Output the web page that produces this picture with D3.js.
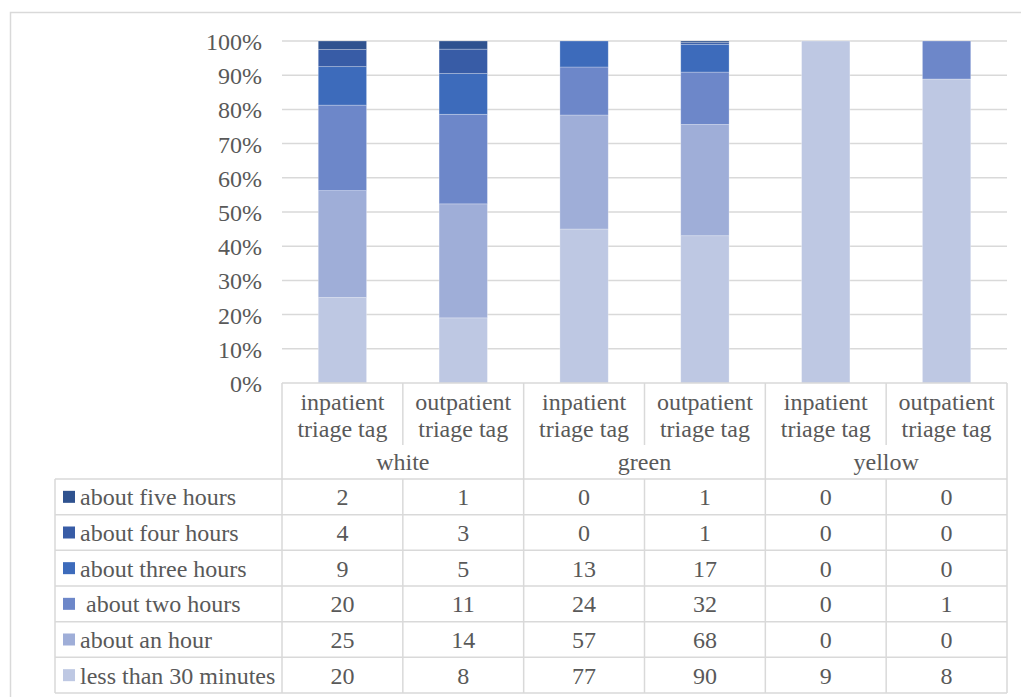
<!DOCTYPE html>
<html>
<head>
<meta charset="utf-8">
<script src="https://cdn.jsdelivr.net/npm/d3@7"></script>
<style>
  html, body { margin: 0; padding: 0; background: #fff; }
  svg { display: block; }
</style>
</head>
<body>
<svg id="chart" width="1021" height="697"></svg>
<script>
// ---- data ----
const groups = ["white", "white", "green", "green", "yellow", "yellow"];
const groupNames = ["white", "green", "yellow"];
const subCategories = ["inpatient triage tag", "outpatient triage tag", "inpatient triage tag", "outpatient triage tag", "inpatient triage tag", "outpatient triage tag"];
// series in table order (top row first)
const seriesNames = ["about five hours", "about four hours", "about three hours", " about two hours", "about an hour", "less than 30 minutes"];
const fiveHours     = [2, 1, 0, 1, 0, 0];
const fourHours     = [4, 3, 0, 1, 0, 0];
const threeHours    = [9, 5, 13, 17, 0, 0];
const twoHours      = [20, 11, 24, 32, 0, 1];
const anHour        = [25, 14, 57, 68, 0, 0];
const lessThan30    = [20, 8, 77, 90, 9, 8];
const seriesValues = [fiveHours, fourHours, threeHours, twoHours, anHour, lessThan30];
const seriesColors = ["#2F528F", "#385CA6", "#3D6BBB", "#6D87C9", "#9FAED8", "#BEC8E3"];
const yTicks = [0, 0.1, 0.2, 0.3, 0.4, 0.5, 0.6, 0.7, 0.8, 0.9, 1.0];

// ---- layout ----
const svg = d3.select("#chart");
const FONT = "Liberation Serif";
const FS = 24;
const TXT = "#595959";
const gridColor = "#D9D9D9";
const plotLeft = 282, plotRight = 1007, plotTop = 41, plotBottom = 383;
const legendLeft = 55;
const catRowBottom = 445;
const headerBottom = 479;
const tableBottom = 693;

function styleText(sel) {
  return sel.attr("font-family", FONT).style("font-family", FONT)
    .attr("font-size", FS).style("font-size", FS + "px")
    .attr("fill", TXT).style("fill", TXT);
}

// outer border
svg.append("rect").attr("x", 10.5).attr("y", 12.5).attr("width", 1030).attr("height", 700)
  .attr("fill", "none").attr("stroke", gridColor).attr("stroke-width", 1.5);

const cols = d3.range(subCategories.length);
const x = d3.scaleBand().domain(cols).range([plotLeft, plotRight]).paddingInner(0).paddingOuter(0);
const y = d3.scaleLinear().domain([0, 1]).range([plotBottom, plotTop]);

// gridlines
svg.append("g").selectAll("line").data(yTicks.slice(1)).join("line")
  .attr("x1", plotLeft).attr("x2", plotRight)
  .attr("y1", d => y(d)).attr("y2", d => y(d))
  .attr("stroke", gridColor).attr("stroke-width", 1.5);

// y axis
const yAxis = d3.axisLeft(y).tickValues(yTicks).tickFormat(d3.format(".0%")).tickSize(0).tickPadding(20);
const ga = svg.append("g").attr("transform", `translate(${plotLeft},0)`).call(yAxis);
ga.attr("font-family", FONT).attr("font-size", FS);
ga.select(".domain").remove();
styleText(ga.selectAll("text")).attr("dy", "0.35em");

// stacked data
const rows = cols.map(i => {
  const r = { idx: i };
  seriesNames.forEach((s, k) => r[s] = seriesValues[k][i]);
  return r;
});
const stackKeys = seriesNames.slice().reverse(); // bottom first
const stacked = d3.stack().keys(stackKeys).offset(d3.stackOffsetExpand)(rows);
const color = d3.scaleOrdinal().domain(seriesNames).range(seriesColors);

const barW = x.bandwidth() * 0.4;
svg.append("g").selectAll("g").data(stacked).join("g")
  .attr("fill", d => color(d.key))
  .selectAll("rect").data(d => d).join("rect")
  .attr("x", d => x(d.data.idx) + (x.bandwidth() - barW) / 2)
  .attr("width", barW)
  .attr("y", d => y(d[1]))
  .attr("height", d => Math.max(0, y(d[0]) - y(d[1])))
  .attr("stroke", d => (d[1] - d[0]) > 0 ? "#ffffff" : "none")
  .attr("stroke-opacity", 0.35)
  .attr("stroke-width", 0.75);

// ---- data table ----
const tbl = svg.append("g").attr("stroke", gridColor).attr("stroke-width", 1.5);
tbl.append("line").attr("x1", plotLeft).attr("x2", plotRight).attr("y1", plotBottom).attr("y2", plotBottom);
const rowY = d3.scaleBand().domain(d3.range(seriesNames.length)).range([headerBottom, tableBottom]);
const hLines = d3.range(seriesNames.length + 1).map(k => k < seriesNames.length ? rowY(k) : tableBottom);
tbl.selectAll(".h").data(hLines).join("line")
  .attr("x1", legendLeft).attr("x2", plotRight).attr("y1", d => d).attr("y2", d => d);
tbl.append("line").attr("x1", legendLeft).attr("x2", legendLeft).attr("y1", headerBottom).attr("y2", tableBottom);
const bounds = cols.map(i => x(i)).concat([plotRight]);
bounds.forEach((bx, k) => {
  const isGroupEdge = k === bounds.length - 1 || k === 0 || groups[k] !== groups[k - 1];
  if (isGroupEdge) {
    tbl.append("line").attr("x1", bx).attr("x2", bx).attr("y1", plotBottom).attr("y2", tableBottom);
  } else {
    tbl.append("line").attr("x1", bx).attr("x2", bx).attr("y1", plotBottom).attr("y2", catRowBottom);
    tbl.append("line").attr("x1", bx).attr("x2", bx).attr("y1", headerBottom).attr("y2", tableBottom);
  }
});

// category labels (two lines)
const catG = svg.append("g");
cols.forEach(i => {
  const cx = x(i) + x.bandwidth() / 2;
  const words = subCategories[i].split(" ");
  const t = styleText(catG.append("text")).attr("text-anchor", "middle").attr("x", cx).attr("y", 410);
  t.append("tspan").attr("x", cx).attr("dy", 0).text(words[0]);
  t.append("tspan").attr("x", cx).attr("dy", 27).text(words.slice(1).join(" "));
});
// group labels
groupNames.forEach(g => {
  const idx = cols.filter(i => groups[i] === g);
  const x0 = x(idx[0]), x1 = x(idx[idx.length - 1]) + x.bandwidth();
  styleText(catG.append("text")).attr("text-anchor", "middle").attr("x", (x0 + x1) / 2).attr("y", 470).text(g);
});

// legend entries and values
seriesNames.forEach((s, k) => {
  const cy = rowY(k) + rowY.bandwidth() / 2;
  svg.append("rect").attr("x", 63).attr("y", cy - 6).attr("width", 12).attr("height", 12).attr("fill", color(s));
  styleText(svg.append("text")).attr("x", 80).attr("y", cy).attr("dy", "0.35em")
    .attr("xml:space", "preserve").style("white-space", "pre").text(s);
  cols.forEach(i => {
    styleText(svg.append("text")).attr("x", x(i) + x.bandwidth() / 2).attr("y", cy).attr("dy", "0.35em")
      .attr("text-anchor", "middle").text(seriesValues[k][i]);
  });
});
</script>
</body>
</html>
